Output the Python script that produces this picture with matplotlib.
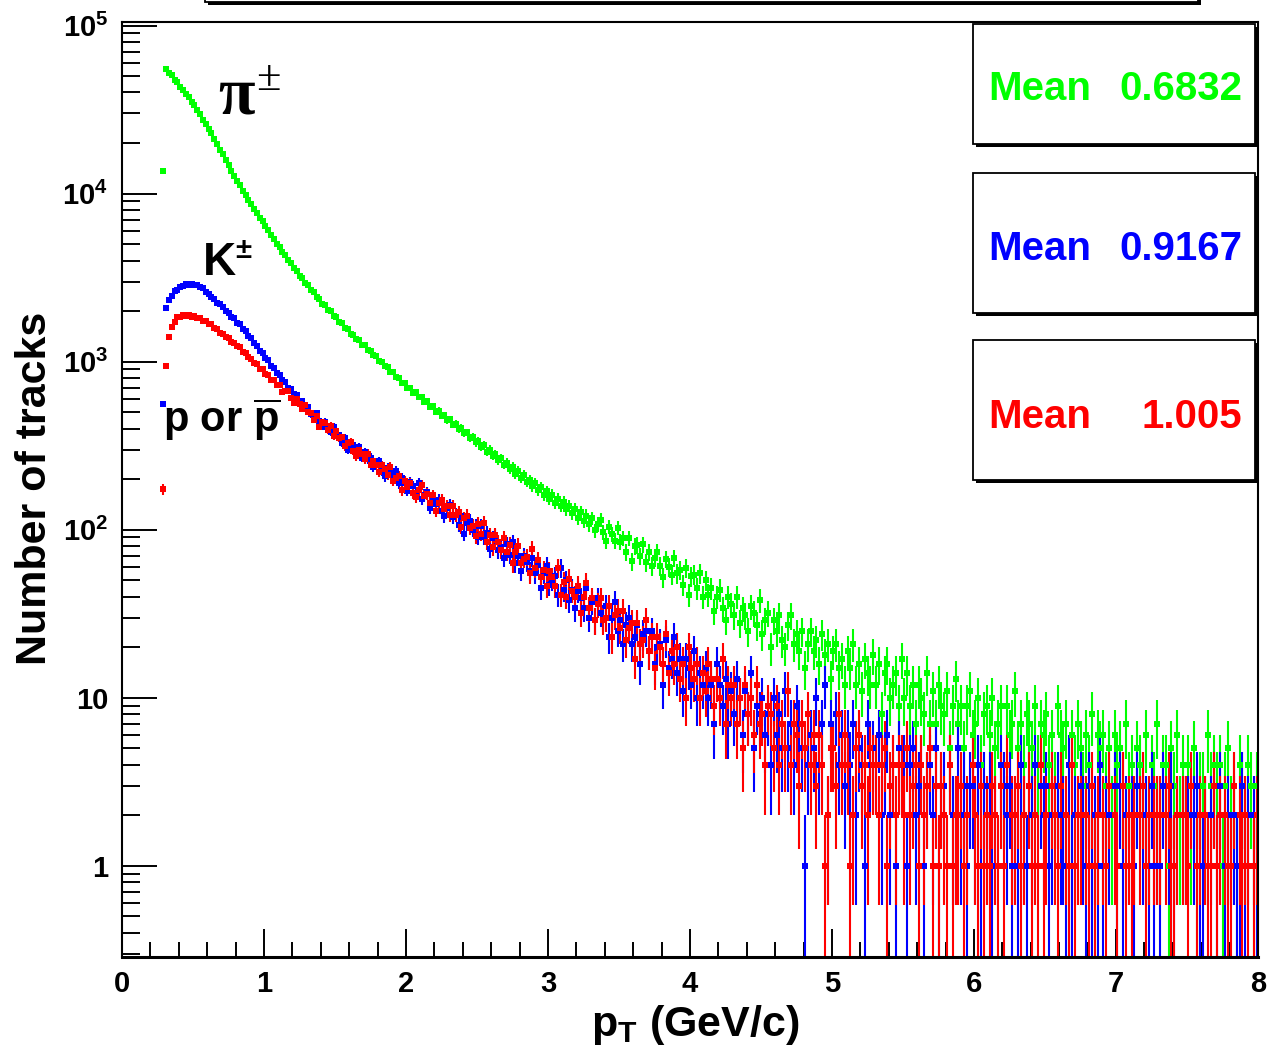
import numpy as np
import matplotlib
matplotlib.use('Agg')
import matplotlib.pyplot as plt
from matplotlib.patches import Rectangle
from matplotlib.ticker import LogLocator, MultipleLocator, FuncFormatter, NullFormatter

# ---------------- data (counts per 0.02 GeV/c bin, first bin centred at 0.29) -------------
bin_width = 0.02
first_center = 0.29

pion_counts = [
    13700,
    55400, 52300, 50600, 47700, 46000, 43300, 41600, 39200, 37600, 35300,
    33800, 31300, 29700, 27500, 26100, 24100, 22800, 21000, 19800, 18300,
    17200, 15800, 14900, 13700, 12800, 11850, 11250, 10400, 9880, 9150,
    8700, 8090, 7700, 7180, 6850, 6380, 6090, 5650, 5390, 5010,
    4790, 4470, 4300, 4010, 3850, 3590, 3460, 3240, 3130, 2930,
    2850, 2660, 2590, 2420, 2370, 2210, 2170, 2040, 2000, 1870,
    1840, 1720, 1700, 1590, 1570, 1470, 1450, 1360, 1350, 1260,
    1250, 1170, 1160, 1090, 1085, 1015, 1000, 940, 935, 870,
    868, 810, 805, 750, 748, 702, 699, 655, 657, 615,
    620, 575, 580, 538, 545, 505, 512, 476, 482, 448,
    455, 421, 428, 396, 404, 374, 380, 352, 358, 331,
    338, 311, 318, 292, 300, 276, 283, 259, 266, 244,
    251, 229, 236, 216, 223, 204, 211, 193, 199, 182,
    189, 172, 179, 162, 169, 153, 161, 145, 153, 139,
    146, 132, 139, 125, 133, 118, 127, 113, 121, 108,
    117, 99, 108, 115, 97, 86, 104, 94, 86, 103,
    85, 89, 74, 89, 65, 80, 81, 70, 82, 64,
    74, 61, 68, 74, 61, 52, 67, 60, 54, 68,
    55, 58, 47, 59, 41, 53, 54, 45, 55, 40,
    50, 41, 45, 33, 40, 44, 34, 29, 40, 36,
    31, 40, 28, 34, 31, 25, 35, 32, 27, 38,
    24, 29, 32, 20, 29, 25, 31, 22, 20, 27,
    31, 21, 24, 19, 25, 15, 21, 25, 19, 22,
    16, 24, 18, 21, 13, 19, 21, 15, 17, 12,
    19, 15, 21, 12, 16, 11, 17, 14, 12, 18,
    12, 16, 8, 14, 16, 10, 12, 14, 9, 17,
    10, 14, 9, 12, 7, 12, 10, 8, 14, 7,
    11, 7, 12, 9, 8, 11, 5, 9, 13, 7,
    9, 5, 9, 11, 6, 7, 10, 4, 8, 9,
    6, 10, 5, 7, 9, 3, 9, 6, 7, 11,
    5, 7, 4, 8, 7, 5, 9, 4, 7, 6,
    8, 4, 6, 3, 9, 6, 5, 7, 1, 6,
    4, 7, 5, 3, 6, 4, 8, 1, 6, 5,
    6, 3, 5, 2, 6, 4, 5, 3, 7, 3,
    4, 2, 5, 4, 3, 6, 2, 4, 3, 7,
    2, 4, 4, 1, 5, 3, 6, 2, 4, 2,
    4, 2, 5, 1, 3, 3, 2, 6, 3, 4,
    3, 4, 1, 3, 5, 2, 3, 1, 4, 3,
    2, 4, 3, 1, 3,
]

kaon_counts = [
    560,
    2080, 2330, 2470, 2620, 2680, 2800, 2820, 2890, 2870, 2900,
    2860, 2850, 2770, 2730, 2600, 2530, 2410, 2360, 2250, 2200,
    2120, 2010, 1960, 1855, 1810, 1710, 1665, 1570, 1520, 1425,
    1380, 1285, 1245, 1160, 1125, 1048, 1018, 948, 921, 856,
    834, 773, 756, 700, 690, 638, 630, 584, 580, 537,
    538, 486, 490, 493, 445, 411, 439, 408, 382, 411,
    366, 365, 329, 353, 298, 322, 320, 290, 310, 268,
    291, 262, 269, 235, 251, 256, 225, 208, 233, 220,
    206, 225, 189, 203, 191, 171, 192, 181, 166, 189,
    153, 161, 167, 135, 154, 142, 151, 129, 121, 135,
    141, 119, 123, 107, 121, 95, 109, 113, 100, 105,
    91, 105, 91, 96, 77, 89, 92, 76, 79, 68,
    82, 71, 84, 63, 70, 57, 70, 64, 57, 68,
    55, 62, 45, 55, 61, 47, 50, 53, 41, 59,
    44, 50, 38, 44, 34, 43, 39, 34, 45, 30,
    37, 29, 39, 32, 30, 35, 23, 30, 37, 25,
    29, 21, 27, 30, 21, 23, 27, 16, 24, 25,
    19, 25, 16, 20, 21, 12, 22, 15, 17, 23,
    14, 17, 11, 17, 15, 12, 19, 10, 14, 12,
    15, 10, 12, 7, 16, 12, 9, 13, 7, 11,
    8, 13, 10, 6, 11, 8, 14, 5, 9, 8,
    10, 6, 8, 4, 10, 6, 8, 5, 11, 5,
    7, 4, 9, 7, 5, 1, 4, 6, 5, 10,
    4, 7, 12, 2, 7, 5, 8, 4, 6, 3,
    6, 4, 7, 2, 5, 4, 1, 7, 4, 5,
    4, 6, 2, 4, 6, 2, 4, 1, 5, 4,
    4, 1, 4, 5, 2, 3, 4, 1, 3, 4,
    2, 5, 1, 3, 3, 0, 4, 2, 2, 5,
    2, 3, 1, 3, 3, 2, 4, 1, 3, 2,
    3, 1, 2, 0, 4, 3, 2, 3, 1, 2,
    1, 4, 2, 1, 3, 2, 4, 0, 3, 2,
    3, 1, 2, 0, 3, 2, 2, 1, 4, 1,
    2, 0, 3, 2, 1, 3, 1, 2, 1, 4,
    1, 2, 2, 0, 3, 1, 3, 1, 2, 0,
    2, 1, 3, 0, 2, 2, 1, 3, 1, 2,
    1, 3, 0, 2, 3, 1, 2, 0, 2, 2,
    2, 0, 2, 3, 1, 1, 2, 0, 2, 3,
    1, 3, 0, 1, 2, 0, 2, 1, 1, 3,
    1, 2, 0, 2, 1,
]

proton_counts = [
    175,
    937, 1410, 1600, 1725, 1835, 1840, 1890, 1865, 1890, 1850,
    1860, 1810, 1815, 1755, 1750, 1685, 1665, 1590, 1560, 1480,
    1470, 1395, 1380, 1305, 1290, 1235, 1215, 1145, 1130, 1062,
    1040, 978, 968, 905, 899, 842, 836, 780, 778, 724,
    728, 664, 670, 670, 610, 567, 598, 559, 526, 556,
    501, 497, 452, 477, 410, 436, 430, 393, 415, 361,
    385, 350, 354, 313, 329, 331, 294, 273, 298, 282,
    264, 284, 243, 256, 243, 220, 242, 229, 212, 237,
    195, 204, 210, 173, 194, 179, 189, 165, 156, 172,
    185, 159, 164, 145, 160, 130, 145, 150, 133, 139,
    122, 139, 122, 127, 104, 117, 121, 103, 106, 92,
    108, 95, 110, 85, 93, 79, 93, 84, 76, 89,
    74, 81, 63, 74, 80, 63, 67, 69, 55, 77,
    59, 66, 52, 58, 46, 57, 52, 46, 59, 41,
    49, 40, 51, 43, 40, 46, 32, 40, 48, 34,
    39, 29, 36, 39, 29, 30, 35, 23, 31, 33,
    26, 33, 22, 26, 28, 17, 28, 21, 22, 29,
    19, 23, 15, 23, 20, 16, 24, 14, 19, 16,
    20, 13, 16, 10, 20, 15, 13, 16, 10, 14,
    11, 16, 13, 9, 13, 10, 17, 7, 12, 10,
    12, 7, 10, 5, 12, 8, 10, 6, 12, 7,
    8, 4, 9, 8, 5, 9, 4, 7, 5, 11,
    4, 7, 6, 3, 7, 5, 8, 4, 6, 3,
    6, 4, 1, 2, 5, 5, 3, 8, 4, 6,
    4, 1, 2, 5, 6, 3, 4, 2, 5, 4,
    4, 2, 4, 5, 1, 3, 4, 2, 4, 4,
    2, 5, 2, 3, 4, 1, 4, 2, 3, 5,
    1, 3, 1, 3, 2, 1, 4, 1, 2, 2,
    3, 1, 2, 0, 4, 2, 1, 3, 1, 2,
    1, 3, 2, 1, 3, 1, 4, 0, 2, 2,
    3, 1, 2, 0, 3, 1, 2, 1, 4, 1,
    2, 0, 3, 2, 1, 3, 0, 2, 1, 4,
    1, 2, 2, 0, 2, 1, 3, 1, 2, 0,
    2, 1, 3, 0, 2, 1, 0, 3, 1, 2,
    1, 2, 0, 2, 3, 1, 2, 0, 2, 2,
    2, 0, 2, 3, 1, 1, 2, 0, 2, 2,
    1, 3, 0, 1, 2, 0, 2, 1, 1, 3,
    1, 2, 0, 2, 1, 1, 3, 0, 2, 1,
    2, 1, 0, 1, 2,
]

series_colors = ['#00ff00', '#0000ff', '#ff0000']
mean_values = ['0.6832', '0.9167', '1.005']

# ---------------- style ----------------
plt.rcParams['font.family'] = ['Liberation Sans', 'DejaVu Sans']
plt.rcParams['font.weight'] = 'bold'
plt.rcParams['mathtext.fontset'] = 'custom'
plt.rcParams['mathtext.rm'] = 'Liberation Sans:bold'
plt.rcParams['mathtext.it'] = 'Liberation Sans:bold'
plt.rcParams['mathtext.bf'] = 'Liberation Sans:bold'
plt.rcParams['mathtext.default'] = 'rm'

W, H = 1269, 1057
fig = plt.figure(figsize=(W / 100, H / 100), dpi=100)
fig.patch.set_facecolor('white')
L, R, T, B = 122, 1258, 22, 957
ax = fig.add_axes([L / W, 1 - B / H, (R - L) / W, (B - T) / H])


def fx(px):
    return px / W


def fy(py):
    return 1 - py / H


def draw(counts, color):
    c = np.asarray(counts, dtype=float)
    x = first_center + bin_width * np.arange(len(c))
    m = c > 0
    x, c = x[m], c[m]
    err = np.sqrt(c)
    lo = np.minimum(err, c - 1e-3)
    ax.errorbar(x, c, yerr=[lo, err], xerr=bin_width / 2, fmt='s', ms=3.7, mew=0,
                color=color, ecolor=color, elinewidth=1.5, capsize=0)


for counts, col in zip([pion_counts, kaon_counts, proton_counts], series_colors):
    draw(counts, col)

ax.set_yscale('log')
ax.set_xlim(0, 8)
ax.set_ylim(0.287, 1.05e5)

ax.xaxis.set_major_locator(MultipleLocator(1))
ax.xaxis.set_minor_locator(MultipleLocator(0.2))
ax.xaxis.set_major_formatter(FuncFormatter(lambda v, p: '%d' % round(v)))
ax.yaxis.set_major_locator(LogLocator(base=10, numticks=20))
ax.yaxis.set_minor_locator(LogLocator(base=10, subs=np.arange(2, 10), numticks=100))


def yfmt(v, pos):
    if v > 99:
        return r'$10^{%d}$' % round(np.log10(v))
    return '%d' % round(v)


ax.yaxis.set_major_formatter(FuncFormatter(yfmt))
ax.yaxis.set_minor_formatter(NullFormatter())
ax.tick_params(axis='y', which='major', direction='in', length=25, width=1.4,
               labelsize=21, pad=10, right=False)
ax.tick_params(axis='y', which='minor', direction='in', length=13, width=1.4, right=False)
ax.tick_params(axis='x', which='major', direction='in', length=20, width=1.4,
               labelsize=21, pad=9, top=False)
ax.tick_params(axis='x', which='minor', direction='in', length=11, width=1.4, top=False)
for name, s in ax.spines.items():
    s.set_linewidth(2.2 if name == 'bottom' else 1.5)

# axis titles
fig.text(fx(35), fy(488), 'Number of tracks', rotation=90, ha='center', va='center',
         fontsize=31, fontweight='bold')
fig.text(fx(695), fy(1036), r'p$_{\mathrm{T}}$ (GeV/c)', ha='center', va='baseline',
         fontsize=31, fontweight='bold')

# particle labels
serif = ['Liberation Serif', 'DejaVu Serif']
fig.text(fx(218), fy(113), '\u03c0', fontsize=48, family=serif,
         fontweight='bold', ha='left', va='baseline')
fig.text(fx(256), fy(90), '\u00b1', fontsize=32, family=serif,
         fontweight='normal', ha='left', va='baseline')
fig.text(fx(203), fy(275), 'K', fontsize=33, ha='left', va='baseline')
fig.text(fx(235), fy(258), '\u00b1', fontsize=21, ha='left', va='baseline')
fig.text(fx(163), fy(432), r'p or $\overline{\mathrm{p}}$', fontsize=30, ha='left',
         va='baseline')


def box(x0, y0, x1, y1, lw=1.3):
    sh = Rectangle((fx(x0 + 3), fy(y1 + 3)), (x1 - x0) / W, (y1 - y0) / H,
                   transform=fig.transFigure, facecolor='black', edgecolor='black',
                   lw=0, zorder=5, clip_on=False)
    fr = Rectangle((fx(x0), fy(y1)), (x1 - x0) / W, (y1 - y0) / H,
                   transform=fig.transFigure, facecolor='white', edgecolor='black',
                   lw=lw, zorder=6, clip_on=False)
    fig.add_artist(sh)
    fig.add_artist(fr)


# title box (cut at the top of the canvas)
box(205, -60, 1198, 2)

# statistics boxes
stat_boxes = [(973, 24, 1255, 144), (973, 173, 1255, 313), (973, 340, 1255, 480)]
baselines = [100, 260, 428]
for (bx0, by0, bx1, by1), base, col, val in zip(stat_boxes, baselines, series_colors,
                                                mean_values):
    box(bx0, by0, bx1, by1)
    fig.text(fx(988), fy(base), 'Mean', color=col, fontsize=29, ha='left',
             va='baseline', zorder=7)
    fig.text(fx(1242), fy(base), val, color=col, fontsize=29, ha='right',
             va='baseline', zorder=7)

fig.savefig('out.png', dpi=100, facecolor='white')
